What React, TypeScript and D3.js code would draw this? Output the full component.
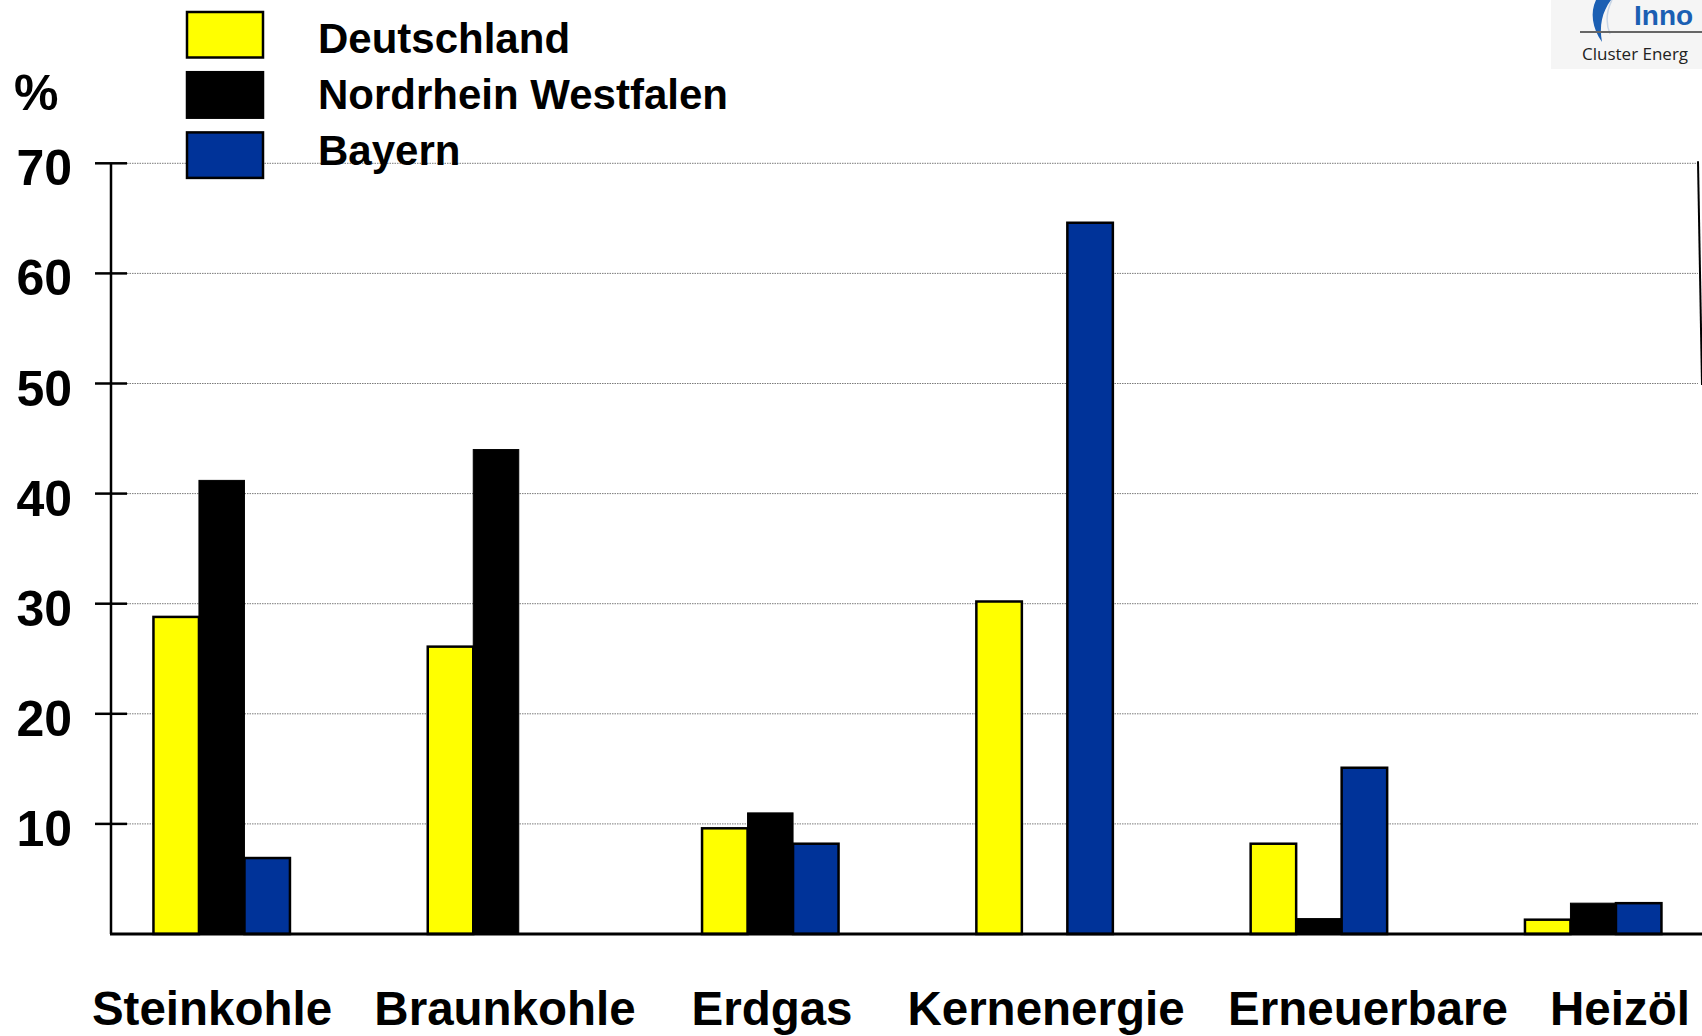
import React from "react";
import * as d3 from "d3";

const categories = ["Steinkohle", "Braunkohle", "Erdgas", "Kernenergie", "Erneuerbare", "Heizöl"];
const seriesNames = ["Deutschland", "Nordrhein Westfalen", "Bayern"];
const deutschland = [28.8, 26.1, 9.6, 30.2, 8.2, 1.3];
const nordrheinWestfalen = [41.2, 44.0, 11.0, 0, 1.4, 2.8];
const bayern = [6.9, 0, 8.2, 64.6, 15.1, 2.8];
const yTicks = [10, 20, 30, 40, 50, 60, 70];
const seriesColors = ["#ffff00", "#000000", "#003399"];

const W = 1702;
const H = 1036;
const FONT = "'Liberation Sans', Arial, Helvetica, sans-serif";

export default function App() {
  const values = [deutschland, nordrheinWestfalen, bayern];
  const axisX = 111;
  const y = d3.scaleLinear().domain([0, 70]).range([934, 163.3]);
  const x0 = d3.scalePoint<string>().domain(categories).range([221.7, 1593.2]);
  const xLabel = d3
    .scaleOrdinal<string, number>()
    .domain(categories)
    .range([212, 505, 772, 1046, 1368, 1620]);
  const x1 = d3.scaleBand<string>().domain(seriesNames).range([-68.25, 68.25]);
  const legendBox = d3.scalePoint<string>().domain(seriesNames).range([12, 132.4]);
  const legendText = d3.scalePoint<string>().domain(seriesNames).range([53, 165]);

  return (
    <svg
      width={W}
      height={H}
      viewBox={`0 0 ${W} ${H}`}
      style={{ position: "absolute", left: 0, top: 0, background: "#fff" }}
      fontFamily={FONT}
    >
      <rect x={0} y={0} width={W} height={H} fill="#fff" />

      {/* logo fragment top right */}
      <g>
        <rect x={1551} y={0} width={151} height={69} fill="#f5f5f5" />
        <path d="M1596,0 C1590,12 1592,28 1602,42 C1599,26 1602,12 1611,0 Z" fill="#1b5fb3" />
        <path d="M1612,0 C1606,12 1606,24 1610,34" fill="none" stroke="#c9d6e6" strokeWidth={1.5} />
        <line x1={1580} x2={1702} y1={32} y2={32} stroke="#666" strokeWidth={2} />
        <text x={1634} y={25} fontSize={28} fontWeight="bold" fill="#1b5fb3" fontFamily={FONT}>Inno</text>
        <text x={1582} y={60} fontSize={17} fill="#222" fontFamily="'Open Sans', sans-serif">Cluster Energ</text>
      </g>

      {/* gridlines */}
      {yTicks.map((t) => (
        <line
          key={"g" + t}
          x1={127}
          x2={1698}
          y1={y(t)}
          y2={y(t)}
          stroke="#7a7a7a"
          strokeWidth={1}
          strokeDasharray="1.5,1"
        />
      ))}

      {/* right slanted frame line */}
      <line x1={1698} y1={y(70) - 2} x2={1702} y2={385} stroke="#000" strokeWidth={2} />

      {/* bars */}
      {categories.map((cat, ci) => (
        <g key={cat}>
          {seriesNames.map((s, si) => {
            const v = values[si][ci];
            if (!v) return null;
            const bx = (x0(cat) as number) + (x1(s) as number);
            return (
              <rect
                key={s}
                x={bx}
                y={y(v)}
                width={x1.bandwidth()}
                height={y(0) - y(v)}
                fill={seriesColors[si]}
                stroke="#000"
                strokeWidth={si === 1 ? 1 : 2.5}
              />
            );
          })}
        </g>
      ))}

      {/* y axis */}
      <line x1={axisX} x2={axisX} y1={y(70)} y2={y(0)} stroke="#000" strokeWidth={2.5} />
      {yTicks.map((t) => (
        <g key={"t" + t}>
          <line x1={95} x2={127} y1={y(t)} y2={y(t)} stroke="#000" strokeWidth={2.5} />
          <text x={72} y={y(t) + 22} textAnchor="end" fontSize={50} fontWeight="bold" fill="#000">
            {t}
          </text>
        </g>
      ))}
      <text x={14} y={110} fontSize={50} fontWeight="bold" fill="#000">%</text>

      {/* baseline */}
      <line x1={axisX - 1} x2={W} y1={y(0)} y2={y(0)} stroke="#000" strokeWidth={3} />

      {/* x labels */}
      {categories.map((cat) => (
        <text
          key={"l" + cat}
          x={xLabel(cat)}
          y={1025}
          textAnchor="middle"
          fontSize={47.5}
          fontWeight="bold"
          fill="#000"
        >
          {cat}
        </text>
      ))}

      {/* legend */}
      {seriesNames.map((s, si) => (
        <g key={"lg" + s}>
          <rect
            x={187}
            y={legendBox(s)}
            width={76}
            height={45.5}
            fill={seriesColors[si]}
            stroke="#000"
            strokeWidth={2.5}
          />
          <text x={318} y={legendText(s)} fontSize={42} fontWeight="bold" fill="#000">
            {s}
          </text>
        </g>
      ))}
    </svg>
  );
}
